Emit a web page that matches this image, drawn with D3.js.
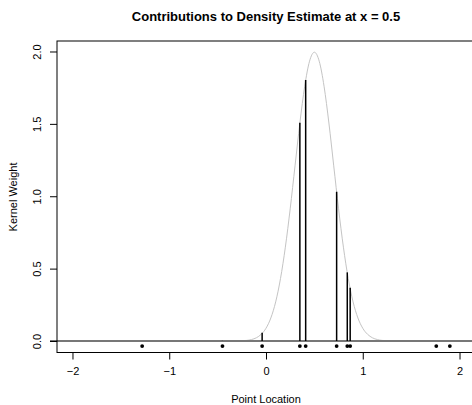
<!DOCTYPE html>
<html>
<head>
<meta charset="utf-8">
<script src="https://cdn.jsdelivr.net/npm/d3@7"></script>
<style>
  body { margin: 0; background: white; }
  text { font-family: "Liberation Sans", Arial, Helvetica, sans-serif; }
</style>
</head>
<body>
<svg width="472" height="405"></svg>
<script>
// sample points and their kernel weights at x = 0.5
var pointLocs = [-1.28, -0.45, -0.04, 0.35, 0.41, 0.73, 0.84, 0.87, 1.76, 1.90]
var weights = [0.000, 0.001, 0.057, 1.508, 1.803, 1.031, 0.474, 0.368, 0.000, 0.000]

// grey kernel curve
var curveX = [-0.30, -0.25, -0.20, -0.15, -0.10, -0.05, 0.00, 0.05, 0.10, 0.15, 0.20, 0.25, 0.30, 0.35, 0.40, 0.45, 0.50,
              0.55, 0.60, 0.65, 0.70, 0.75, 0.80, 0.85, 0.90, 0.95, 1.00, 1.05, 1.10, 1.15, 1.20, 1.25, 1.30]
var curveY = [0.001, 0.002, 0.004, 0.010, 0.022, 0.046, 0.088, 0.159, 0.270, 0.432, 0.648, 0.913, 1.210, 1.506, 1.760, 1.933, 1.995,
              1.933, 1.760, 1.506, 1.210, 0.913, 0.648, 0.432, 0.270, 0.159, 0.088, 0.046, 0.022, 0.010, 0.004, 0.002, 0.001]

var xTicks = [-2, -1, 0, 1, 2]
var yTicks = [0, 0.5, 1, 1.5, 2]
var dotLevel = -0.035

var svg = d3.select("svg")

var scX = d3.scaleLinear().domain([-2.16, 2.16]).range([57, 475])
var scY = d3.scaleLinear().domain([-0.0795, 2.0725]).range([352.5, 41])

// kernel curve
var line = d3.line().x((d, i) => scX(curveX[i])).y(d => scY(d)).curve(d3.curveMonotoneX)
svg.append("path")
    .datum(curveY)
    .attr("d", line)
    .attr("fill", "none")
    .attr("stroke", "#c4c4c4")
    .attr("stroke-width", 1)

// zero line
svg.append("line")
    .attr("x1", 50).attr("x2", 472)
    .attr("y1", scY(0)).attr("y2", scY(0))
    .attr("stroke", "#777")
    .attr("stroke-width", 2)

// weight segments
svg.selectAll("line.seg").data(pointLocs).enter().append("line")
    .attr("class", "seg")
    .attr("x1", d => scX(d)).attr("x2", d => scX(d))
    .attr("y1", scY(0))
    .attr("y2", (d, i) => scY(weights[i]))
    .attr("stroke", "black")
    .attr("stroke-width", 1.5)

// points
svg.selectAll("circle").data(pointLocs).enter().append("circle")
    .attr("cx", d => scX(d))
    .attr("cy", scY(dotLevel))
    .attr("r", 1.9)
    .attr("fill", "black")

// box
svg.append("rect")
    .attr("x", 57).attr("y", 41)
    .attr("width", 418).attr("height", 311.5)
    .attr("fill", "none").attr("stroke", "black").attr("stroke-width", 1)

// axes
var xAxis = d3.axisBottom(scX).tickValues(xTicks).tickSize(7).tickSizeOuter(0)
    .tickFormat(d => d < 0 ? "\u2212" + Math.abs(d) : d)
var gx = svg.append("g").attr("transform", "translate(0, 352.5)").call(xAxis)
gx.select(".domain").remove()
gx.selectAll("text").attr("font-size", 11).attr("font-family", null).attr("dy", null).attr("y", 22).attr("fill", "#000")

var yAxis = d3.axisLeft(scY).tickValues(yTicks).tickSize(7).tickSizeOuter(0).tickFormat(d3.format(".1f"))
var gy = svg.append("g").attr("transform", "translate(57, 0)").call(yAxis)
gy.select(".domain").remove()
gy.selectAll("text")
    .attr("font-size", 11).attr("font-family", null)
    .attr("x", null).attr("dy", null)
    .attr("text-anchor", "middle")
    .attr("transform", "translate(-16, 0) rotate(-90)")
    .attr("fill", "#000")

// titles
svg.append("text")
    .attr("x", 266).attr("y", 21)
    .attr("text-anchor", "middle")
    .attr("font-size", 13).attr("font-weight", "bold")
    .text("Contributions to Density Estimate at x = 0.5")

svg.append("text")
    .attr("x", 266).attr("y", 403)
    .attr("text-anchor", "middle")
    .attr("font-size", 11)
    .text("Point Location")

svg.append("text")
    .attr("transform", "translate(17, 197) rotate(-90)")
    .attr("text-anchor", "middle")
    .attr("font-size", 11)
    .text("Kernel Weight")
</script>
</body>
</html>
